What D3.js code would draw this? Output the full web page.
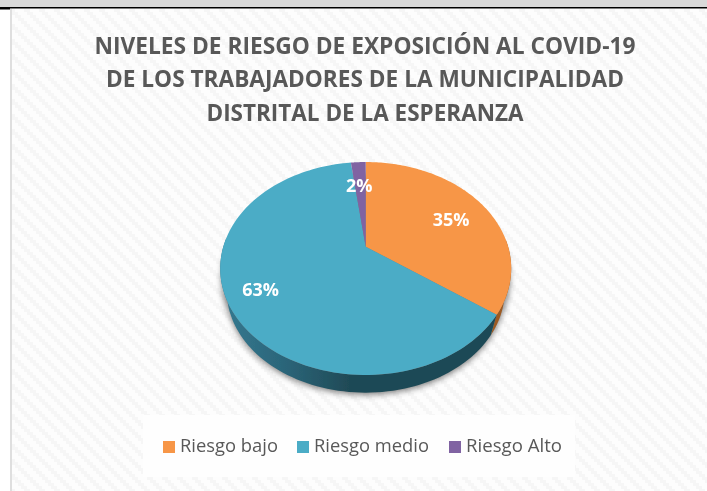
<!DOCTYPE html>
<html><head><meta charset="utf-8">
<script src="https://cdn.jsdelivr.net/npm/d3@7"></script>
<style>html,body{margin:0;padding:0;background:#fff;overflow:hidden}svg{display:block}</style>
</head><body><svg id="c" width="707" height="491"></svg>
<script>
const categories = ["Riesgo bajo", "Riesgo medio", "Riesgo Alto"];
const values = [35, 63, 2];
const percentLabels = ["35%", "63%", "2%"];
const colors = ["#F79646", "#4BACC6", "#8064A2"];
const titleLines = ["NIVELES DE RIESGO DE EXPOSICIÓN AL COVID-19",
                    "DE LOS TRABAJADORES DE LA MUNICIPALIDAD",
                    "DISTRITAL DE LA ESPERANZA"];
const titleWidths = [541, 518, 317];
const labelReach = [0.70, 0.78, 0.69];
const labelShift = [[2,3],[-1,-1],[-1,0]];

const svg = d3.select("#c");
const defs = svg.append("defs");

// page backdrop
const pat = defs.append("pattern").attr("id","wp").attr("patternUnits","userSpaceOnUse")
  .attr("width",15).attr("height",15);
pat.append("rect").attr("width",15).attr("height",15).attr("fill","#fdfdfd");
d3.range(5).forEach(i=>{
  pat.append("rect").attr("x",i*3).attr("y",i*3).attr("width",6).attr("height",3).attr("fill","#f6f6f6");
  if(i===4) pat.append("rect").attr("x",0).attr("y",12).attr("width",3).attr("height",3).attr("fill","#f6f6f6");
});
svg.append("rect").attr("width",707).attr("height",491).attr("fill","#fff");
svg.append("rect").attr("x",12).attr("y",9).attr("width",695).attr("height",482).attr("fill","url(#wp)");
svg.append("rect").attr("width",707).attr("height",7).attr("fill","#d9d9d9");
svg.append("rect").attr("y",7).attr("width",707).attr("height",1.5).attr("fill","#000");
svg.append("rect").attr("y",8).attr("width",10).attr("height",1.5).attr("fill","#000");
svg.append("rect").attr("x",10).attr("y",9).attr("width",2).attr("height",482).attr("fill","#dfdfdf");

const soft=defs.append("filter").attr("id","soft");
soft.append("feGaussianBlur").attr("stdDeviation",0.45);
const blur=defs.append("filter").attr("id","sh").attr("x","-10%").attr("y","-10%").attr("width","120%").attr("height","120%");
blur.append("feGaussianBlur").attr("stdDeviation",3.2);
const grad=defs.append("linearGradient").attr("id","sideG").attr("gradientUnits","userSpaceOnUse")
  .attr("x1",225).attr("x2",350).attr("y1",0).attr("y2",0);
[[0,"#33788f"],[0.5,"#2b6478"],[1,"#1f4a56"]].forEach(s=>grad.append("stop").attr("offset",s[0]).attr("stop-color",s[1]));

const chart=svg.append("g").attr("filter","url(#soft)");

// title
chart.append("g").selectAll("text").data(titleLines).join("text")
  .attr("x",365).attr("y",(d,i)=>[54,87,121][i]).attr("text-anchor","middle")
  .attr("font-family","'Open Sans'").attr("font-weight",700).attr("font-size",23.5)
  .attr("fill","#595959")
  .attr("textLength",(d,i)=>titleWidths[i]).attr("lengthAdjust","spacingAndGlyphs")
  .text(d=>d);

// tilted disc: d3.pie angles through a perspective mapping
const cx=365.7, cy=246.7, A=142.4, B=102, k=0.2047, rimCy=268.5, lowCy=291, lowScale=0.955;
const project=(a,r=1)=>{
  const u=r*Math.sin(a), v=-r*Math.cos(a), w=1-k*v;
  return [cx+A*u/w, cy+B*v/w];
};
const lower=p=>[cx+(p[0]-cx)*lowScale, lowCy+(p[1]-rimCy)*lowScale];
const arcs=d3.pie().sort(null).value(d=>d)(values);
const sweep=(a0,a1)=>d3.range(0,81).map(i=>a0+(a1-a0)*i/80);
const line=d3.line();
const sidePath=(a0,a1)=>{
  const rim=sweep(a0,a1).map(a=>project(a));
  const low=rim.slice().reverse().map(lower);
  return line(rim.concat(low))+"Z";
};

// soft shadow, below the disc only
const shadow=svg.insert("g","g").attr("filter","url(#sh)").attr("fill","#000").attr("opacity",0.5);
const full=sweep(0,2*Math.PI).map(a=>project(a));
shadow.append("path").attr("d",line(full.map(p=>[cx+(p[0]-cx)*0.99,p[1]+11]))+"Z");
shadow.append("path").attr("d",line(full.map(lower).map(p=>[p[0],p[1]+2]))+"Z");

// side walls
const orangeEnd=arcs[0].endAngle, blueEnd=arcs[1].endAngle;
chart.append("path").attr("fill","#9c5a22").attr("d",sidePath(1.5,orangeEnd));
chart.append("path").attr("fill","url(#sideG)").attr("d",sidePath(orangeEnd,Math.min(blueEnd,4.8)));

// top face
chart.append("g").selectAll("path").data(arcs).join("path")
  .attr("fill",(d,i)=>colors[i])
  .attr("d",d=>line([[cx,cy]].concat(d3.range(0,121).map(i=>project(d.startAngle+(d.endAngle-d.startAngle)*i/120))))+"Z");

// data labels
chart.append("g").selectAll("text").data(arcs).join("text")
  .attr("x",(d,i)=>project((d.startAngle+d.endAngle)/2,labelReach[i])[0]+labelShift[i][0])
  .attr("y",(d,i)=>project((d.startAngle+d.endAngle)/2,labelReach[i])[1]+labelShift[i][1])
  .attr("dy","0.36em").attr("text-anchor","middle")
  .attr("font-family","'Open Sans'").attr("font-weight",700).attr("font-size",18).attr("fill","#fff")
  .text((d,i)=>percentLabels[i]);

// legend
const legendBox=svg.insert("rect","g").attr("x",143).attr("y",415).attr("width",432).attr("height",62).attr("fill","#fefefe");
const swatchX=[163,297,449], textX=[180,314,466], textW=[98,115,96];
const lg=chart.append("g").selectAll("g").data(categories).join("g");
lg.append("rect").attr("x",(d,i)=>swatchX[i]).attr("y",441).attr("width",12).attr("height",12)
  .attr("fill",(d,i)=>colors[i]);
lg.append("text").attr("x",(d,i)=>textX[i]).attr("y",452)
  .attr("font-family","'Open Sans'").attr("font-size",18).attr("fill","#595959")
  .attr("textLength",(d,i)=>textW[i]).attr("lengthAdjust","spacingAndGlyphs")
  .text(d=>d);
</script></body></html>
